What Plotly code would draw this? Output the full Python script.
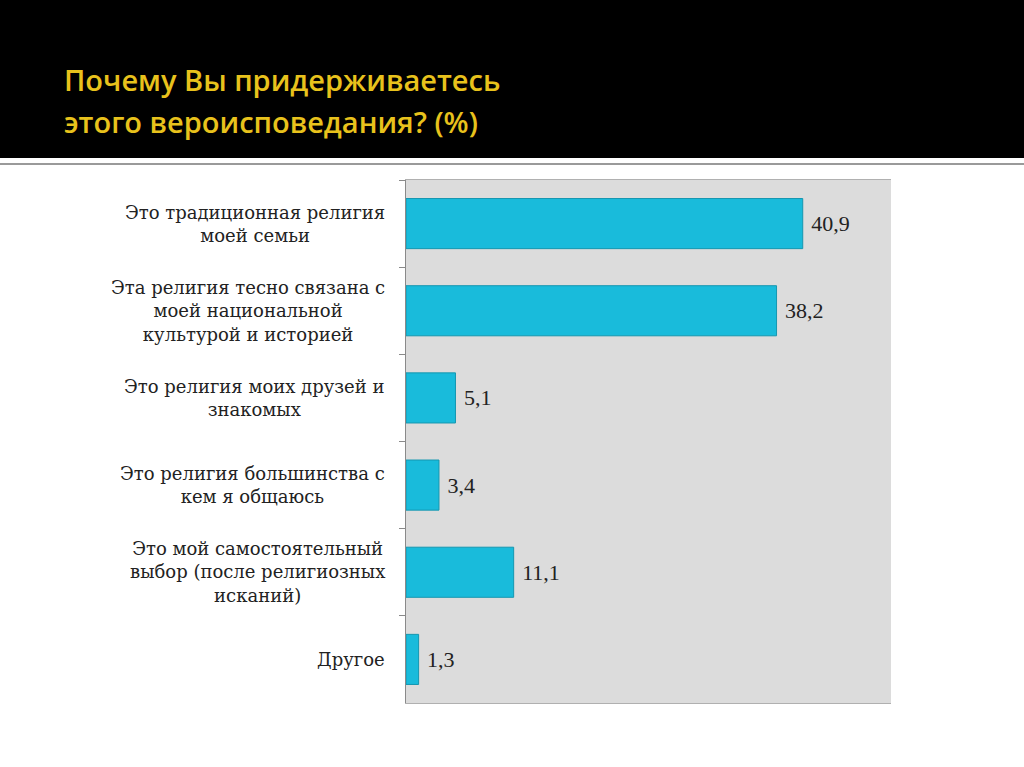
import plotly.graph_objects as go

# answers and shares (%)
categories = [
    "Это традиционная религия<br>моей семьи",
    "Эта религия тесно связана с<br>моей национальной<br>культурой и историей",
    "Это религия моих друзей и<br>знакомых",
    "Это религия большинства с<br>кем я общаюсь",
    "Это мой самостоятельный<br>выбор (после религиозных<br>исканий)",
    "Другое",
]
values = [40.9, 38.2, 5.1, 3.4, 11.1, 1.3]

title_lines = ["Почему Вы придерживаетесь", "этого вероисповедания? (%)"]

serif = "DejaVu Serif"

fig = go.Figure()
fig.add_trace(go.Bar(
    x=values, y=categories, orientation="h",
    marker=dict(color="#19BBDB", line=dict(color="#1597b0", width=1)),
    width=0.575,
    texttemplate=" %{x:.1f}", textposition="outside",
    textfont=dict(family="Liberation Serif", size=22, color="#222"),
    cliponaxis=False,
))

# category labels centred like in the original
for c in categories:
    fig.add_annotation(x=-0.04, xref="paper", y=c, yref="y", text=c,
                       xanchor="right", align="center", showarrow=False,
                       font=dict(family=serif, size=18, color="#222"))

# black header with title (plot area is 485x523 px, top at 180 px)
def py(px):
    return 1 + (180 - px) / 523

fig.add_shape(type="rect", xref="paper", yref="paper",
              x0=-1, x1=2, y0=py(158), y1=py(-10), fillcolor="black", line_width=0, layer="below")
fig.add_shape(type="line", xref="paper", yref="paper",
              x0=-1, x1=2, y0=py(164), y1=py(164), line=dict(color="#9a9a9a", width=2))

for i, t in enumerate(title_lines):
    fig.add_annotation(x=(62 - 406) / 485, y=py(80 + 41 * i),
                       xref="paper", yref="paper", text=t, showarrow=False,
                       xanchor="left", yanchor="middle",
                       font=dict(family="Open Sans", size=29, color="#E8C21C", weight=600))

fig.update_xaxes(range=[0, 50], showticklabels=False, showgrid=False, zeroline=False,
                 showline=True, linecolor="#b0b0b0", mirror=True)
fig.update_yaxes(autorange="reversed", showticklabels=False, showgrid=False,
                 showline=True, linecolor="#8a8a8a", ticks="outside", tickson="boundaries",
                 ticklen=6, tickcolor="#8a8a8a")

fig.update_layout(
    width=1024, height=767,
    margin=dict(l=406, r=133, t=180, b=64),
    plot_bgcolor="#DCDCDC", paper_bgcolor="white",
    separators=", ",
    showlegend=False,
)

fig.write_html("out.html", config={"displayModeBar": False},
               post_script="document.body.style.margin='0';")
